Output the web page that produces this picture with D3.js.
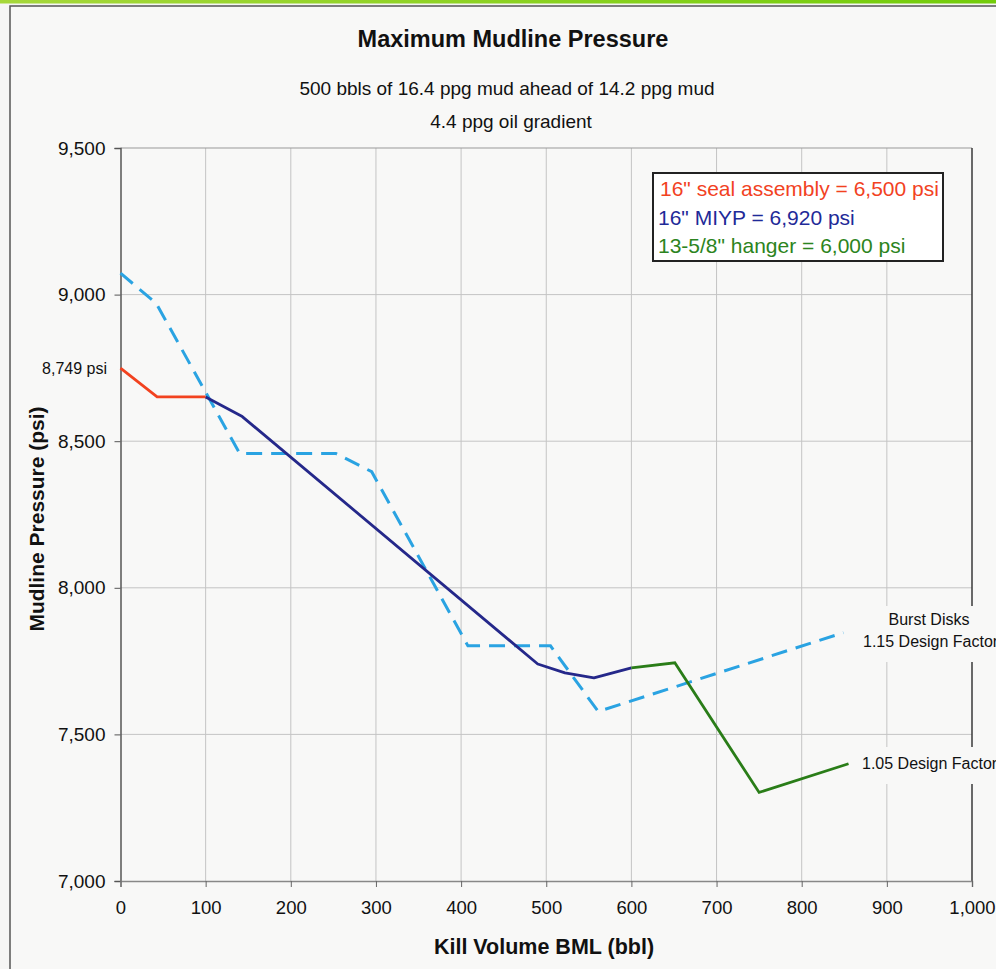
<!DOCTYPE html>
<html>
<head>
<meta charset="utf-8">
<script src="https://cdn.jsdelivr.net/npm/d3@7"></script>
<style>
  html, body { margin: 0; padding: 0; background: #f6f6f5; }
  svg { display: block; font-family: "Liberation Sans", Arial, sans-serif; }
</style>
</head>
<body>
<svg id="chart" width="996" height="969"></svg>
<script>
// ---- data ----
const xTicks = [0, 100, 200, 300, 400, 500, 600, 700, 800, 900, 1000];
const yTicks = [7000, 7500, 8000, 8500, 9000, 9500];

// 16" seal assembly segment (red)
const sealVol = [0, 43, 100];
const sealPsi = [8749, 8651, 8651];
// 16" MIYP segment (dark blue)
const miypVol = [100, 143, 490, 522, 556, 600];
const miypPsi = [8651, 8584, 7740, 7710, 7693, 7727];
// 13-5/8" hanger segment (green) - 1.05 design factor
const hangerVol = [600, 651, 750, 855];
const hangerPsi = [7727, 7744, 7302, 7400];
// Burst disks 1.15 design factor (dashed light blue)
const burstVol = [0, 42, 140, 253, 295, 408, 505, 561, 849];
const burstPsi = [9073, 8970, 8458, 8458, 8396, 7802, 7802, 7578, 7847];

const legendItems = [
  { text: '16" seal assembly = 6,500 psi', color: "#f2421f" },
  { text: '16" MIYP = 6,920 psi', color: "#1f2a98" },
  { text: '13-5/8" hanger = 6,000 psi', color: "#2c8420" }
];

// ---- drawing ----
const svg = d3.select("#chart");
const W = 996, H = 969;

const defs = svg.append("defs");
const grad = defs.append("linearGradient").attr("id", "topband").attr("x1", "0").attr("x2", "1");
grad.append("stop").attr("offset", "0").attr("stop-color", "#a6d83a");
grad.append("stop").attr("offset", "1").attr("stop-color", "#72cc0a");

svg.append("rect").attr("x", 0).attr("y", 0).attr("width", W).attr("height", H).attr("fill", "#f6f6f5");
svg.append("rect").attr("x", 0).attr("y", 0).attr("width", W).attr("height", 3.5).attr("fill", "url(#topband)");

// outer chart border
svg.append("rect").attr("x", 10).attr("y", 6).attr("width", W + 20).attr("height", H + 20)
  .attr("fill", "#f8f8f7").attr("stroke", "#555").attr("stroke-width", 1.5);

const x = d3.scaleLinear().domain([0, 1000]).range([120.5, 972]);
const y = d3.scaleLinear().domain([7000, 9500]).range([881, 148]);

// grid
const g = svg.append("g");
g.selectAll("line.vg").data(xTicks.filter(d => d > 0 && d < 1000)).join("line")
  .attr("x1", d => x(d)).attr("x2", d => x(d)).attr("y1", y(9500)).attr("y2", y(7000))
  .attr("stroke", "#c4c4c4").attr("stroke-width", 1);
g.selectAll("line.hg").data(yTicks.filter(d => d > 7000)).join("line")
  .attr("x1", x(0)).attr("x2", x(1000)).attr("y1", d => y(d)).attr("y2", d => y(d))
  .attr("stroke", d => d === 9500 ? "#999" : "#c4c4c4").attr("stroke-width", 1);
// right border
g.append("line").attr("x1", x(1000)).attr("x2", x(1000)).attr("y1", y(9500)).attr("y2", y(7000))
  .attr("stroke", "#3a3a3a").attr("stroke-width", 1.5);

// axes
const yAxis = d3.axisLeft(y).tickValues(yTicks).tickFormat(d3.format(",")).tickSize(6).tickPadding(9);
const xAxis = d3.axisBottom(x).tickValues(xTicks).tickFormat(d3.format(",")).tickSize(6).tickPadding(14);

const ya = svg.append("g").attr("transform", `translate(${x(0)},0)`).call(yAxis);
ya.select(".domain").attr("stroke", "#555").attr("stroke-width", 1.5);
ya.selectAll(".tick line").attr("stroke", "#555");
ya.selectAll("text").attr("font-size", 19).attr("fill", "#111").attr("font-family", "Liberation Sans, Arial, sans-serif");

const xa = svg.append("g").attr("transform", `translate(0,${y(7000)})`).call(xAxis);
xa.select(".domain").attr("stroke", "#888").attr("stroke-width", 1.5);
xa.selectAll(".tick line").attr("stroke", "#666");
xa.selectAll("text").attr("font-size", 18.5).attr("fill", "#111").attr("font-family", "Liberation Sans, Arial, sans-serif");

// white label boxes (they hide grid behind the annotations)
svg.append("rect").attr("x", 858).attr("y", 606).attr("width", 140).attr("height", 56).attr("fill", "#f8f8f7");
svg.append("rect").attr("x", 858).attr("y", 747).attr("width", 140).attr("height", 37).attr("fill", "#f8f8f7");

// lines
const line = d3.line().x(d => x(d[0])).y(d => y(d[1]));
const zip = (a, b) => a.map((v, i) => [v, b[i]]);

svg.append("path").datum(zip(burstVol, burstPsi)).attr("d", line)
  .attr("fill", "none").attr("stroke", "#2aa3e2").attr("stroke-width", 3)
  .attr("stroke-dasharray", "16,9");
svg.append("path").datum(zip(sealVol, sealPsi)).attr("d", line)
  .attr("fill", "none").attr("stroke", "#f2421f").attr("stroke-width", 2.8);
svg.append("path").datum(zip(miypVol, miypPsi)).attr("d", line)
  .attr("fill", "none").attr("stroke", "#25288a").attr("stroke-width", 2.8).attr("stroke-linejoin", "round");
svg.append("path").datum(zip(hangerVol, hangerPsi)).attr("d", line)
  .attr("fill", "none").attr("stroke", "#2a7d18").attr("stroke-width", 2.8);

// titles
svg.append("text").attr("x", 513).attr("y", 47).attr("text-anchor", "middle")
  .attr("font-size", 23.5).attr("font-weight", "bold").attr("fill", "#111")
  .text("Maximum Mudline Pressure");
svg.append("text").attr("x", 507).attr("y", 95).attr("text-anchor", "middle")
  .attr("font-size", 19).attr("fill", "#111")
  .text("500 bbls of 16.4 ppg mud ahead of 14.2 ppg mud");
svg.append("text").attr("x", 511).attr("y", 128).attr("text-anchor", "middle")
  .attr("font-size", 19).attr("fill", "#111")
  .text("4.4 ppg oil gradient");

// axis titles
svg.append("text").attr("x", 544).attr("y", 954).attr("text-anchor", "middle")
  .attr("font-size", 21.5).attr("font-weight", "bold").attr("fill", "#111")
  .text("Kill Volume BML (bbl)");
svg.append("text").attr("transform", "translate(44,519) rotate(-90)").attr("text-anchor", "middle")
  .attr("font-size", 21).attr("font-weight", "bold").attr("fill", "#111")
  .text("Mudline Pressure (psi)");

// start annotation
svg.append("text").attr("x", 107).attr("y", y(sealPsi[0]) + 5.5).attr("text-anchor", "end")
  .attr("font-size", 16).attr("fill", "#111")
  .text(d3.format(",")(sealPsi[0]) + " psi");

// right-side annotations
svg.append("text").attr("x", 929).attr("y", 625).attr("text-anchor", "middle")
  .attr("font-size", 16).attr("fill", "#111").text("Burst Disks");
svg.append("text").attr("x", 863).attr("y", 647)
  .attr("font-size", 16).attr("fill", "#111").text("1.15 Design Factor");
svg.append("text").attr("x", 862).attr("y", 769)
  .attr("font-size", 16).attr("fill", "#111").text("1.05 Design Factor");

// legend box
const lg = svg.append("g");
lg.append("rect").attr("x", 653).attr("y", 173).attr("width", 290).attr("height", 88)
  .attr("fill", "#ffffff").attr("stroke", "#222").attr("stroke-width", 2);
lg.selectAll("text").data(legendItems).join("text")
  .attr("x", (d, i) => i === 0 ? 660 : 658)
  .attr("y", (d, i) => 196 + i * 28.5)
  .attr("font-size", 21).attr("fill", d => d.color)
  .text(d => d.text);
</script>
</body>
</html>
